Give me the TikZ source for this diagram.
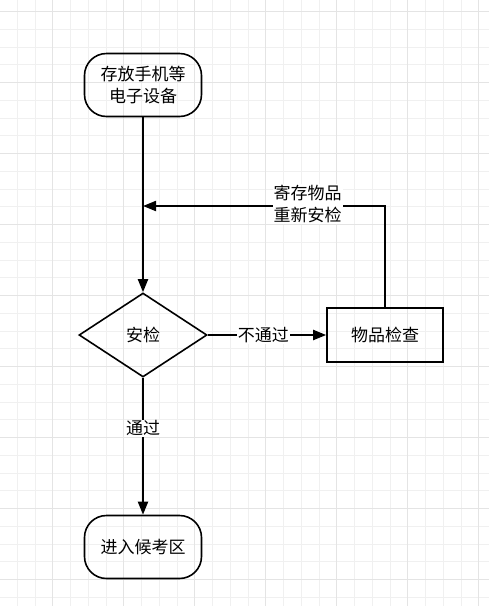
\documentclass[tikz,border=0pt]{standalone}
\usepackage{fontspec}
\newfontfamily\cjk{Noto Sans CJK SC}
\usetikzlibrary{shapes.geometric,arrows.meta,positioning}

\begin{document}
\begin{tikzpicture}[x=1pt, y=-1pt,
    every node/.style={font=\cjk\fontsize{17}{22}\selectfont, align=center},
    term/.style={draw, line width=1.6pt, rounded corners=22pt, minimum width=117pt, minimum height=63pt},
    decide/.style={draw, diamond, line width=1.6pt, minimum width=128pt, minimum height=84pt, inner sep=0pt},
    task/.style={draw, line width=1.6pt, minimum width=116pt, minimum height=54pt},
    flow/.style={line width=2pt, -{Triangle[length=13pt, width=10pt]}},
    lbl/.style={fill=white, inner sep=1pt}]
    \definecolor{gridminor}{RGB}{240,240,240}
    \definecolor{gridmajor}{RGB}{228,228,228}

    % Background grid
    \useasboundingbox (0,0) rectangle (489,606);
    \fill[white] (0,0) rectangle (489,606);
    \foreach \i in {0,...,28} {
        \draw[gridminor, line width=1pt] (-0.5+17.75*\i,0) -- (-0.5+17.75*\i,606);
    }
    \foreach \i in {0,...,35} {
        \draw[gridminor, line width=1pt] (0,-6.05+17.75*\i) -- (489,-6.05+17.75*\i);
    }
    \foreach \i in {0,...,6} {
        \draw[gridmajor, line width=1.2pt] (52.7+71*\i,0) -- (52.7+71*\i,606);
    }
    \foreach \i in {0,...,8} {
        \draw[gridmajor, line width=1.2pt] (0,11.7+71*\i) -- (489,11.7+71*\i);
    }

    % Flow nodes
    \node[term] (store) at (143,85) {存放手机等\\电子设备};
    \node[decide] (check) at (143,335) {安检};
    \node[task] (inspect) at (385,335) {物品检查};
    \node[term] (enter) at (143,547) {进入候考区};
    \coordinate (rejoin) at (143,206);

    % Connectors
    \draw[flow] (store) -- (check);
    \draw[flow] (check) -- node[lbl, pos=0.47] {不通过} (inspect);
    \draw[flow] (inspect.north) |- node[lbl, pos=0.66, yshift=2pt] {寄存物品\\重新安检} (rejoin);
    \draw[flow] (check) -- node[lbl, pos=0.37] {通过} (enter);
\end{tikzpicture}
\end{document}
